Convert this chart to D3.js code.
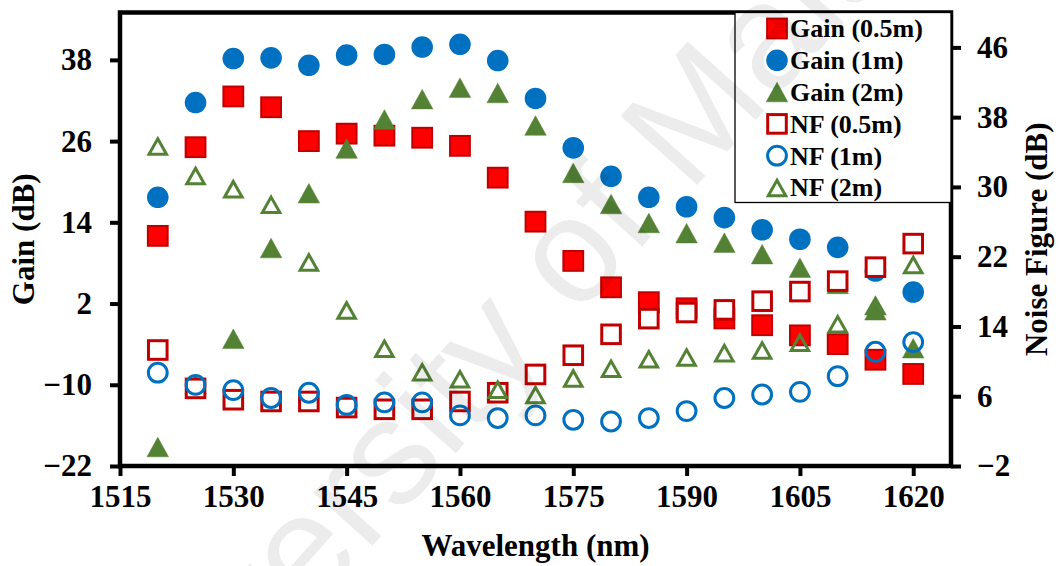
<!DOCTYPE html>
<html>
<head>
<meta charset="utf-8">
<script src="https://cdn.jsdelivr.net/npm/d3@7"></script>
<style>
  html, body { margin: 0; padding: 0; background: #fff; }
  svg { display: block; }
  .tick text { font-family: "Liberation Serif", "Times New Roman", serif; font-weight: bold; font-size: 31px; fill: #000; }
  .title { font-family: "Liberation Serif", "Times New Roman", serif; font-weight: bold; font-size: 31px; fill: #000; }
  .legend text { font-family: "Liberation Serif", "Times New Roman", serif; font-weight: bold; font-size: 26px; fill: #000; }
</style>
</head>
<body>
<svg id="chart" width="1060" height="566"></svg>
<script>
// Wavelength of each measurement (nm)
const wavelengths = [1520, 1525, 1530, 1535, 1540, 1545, 1550, 1555, 1560, 1565, 1570,
                     1575, 1580, 1585, 1590, 1595, 1600, 1605, 1610, 1615, 1620];

// Gain (dB) for each fibre length
const gain05 = [12.0, 25.1, 32.6, 31.0, 26.0, 27.1, 26.8, 26.5, 25.3, 20.6, 14.1,
                8.3, 4.4, 2.2, 1.3, -0.2, -1.2, -2.7, -4.0, -6.3, -8.4];
const gain1  = [17.7, 31.7, 38.2, 38.3, 37.2, 38.7, 38.8, 39.9, 40.3, 37.9, 32.3,
                25.0, 20.8, 17.7, 16.3, 14.7, 12.9, 11.5, 10.3, 6.8, 3.7];
const gain2  = [-19.2, -9.9, -3.2, 10.2, 18.3, 24.9, 29.2, 32.2, 33.9, 33.1, 28.3,
                21.3, 16.7, 13.9, 12.4, 11.0, 9.3, 7.3, 4.9, 1.0, -4.6];

// Noise figure (dB) for each fibre length
const nf05 = [11.3, 6.9, 5.6, 5.4, 5.4, 4.7, 4.5, 4.5, 5.4, 6.4, 8.5,
              10.7, 13.1, 14.9, 15.6, 15.9, 16.9, 18.0, 19.2, 20.8, 23.5];
const nf1  = [8.7, 7.3, 6.7, 5.8, 6.4, 5.0, 5.3, 5.3, 3.8, 3.5, 3.8,
              3.3, 3.1, 3.5, 4.3, 5.8, 6.2, 6.5, 8.3, 11.1, 12.2];
const nf2  = [34.7, 31.3, 29.8, 28.0, 21.4, 15.9, 11.5, 8.8, 8.0, 6.8, 6.2,
              8.1, 9.2, 10.3, 10.5, 11.0, 11.3, 12.2, 14.3, 16.4, 21.1];

// Axis ticks
const xTicks = [1515, 1530, 1545, 1560, 1575, 1590, 1605, 1620];
const gainTicks = [-22, -10, 2, 14, 26, 38];
const nfTicks = [-2, 6, 14, 22, 30, 38, 46];

const seriesNames = ["Gain (0.5m)", "Gain (1m)", "Gain (2m)", "NF (0.5m)", "NF (1m)", "NF (2m)"];

const svg = d3.select("#chart");
const plot = { left: 120, right: 951, top: 12.5, bottom: 466 };

const x = d3.scaleLinear().domain([1515, 1625]).range([plot.left, plot.right]);
const yGain = d3.scaleLinear().domain([-22, 45]).range([plot.bottom, plot.top]);
const yNF = d3.scaleLinear().domain([-2, 50]).range([plot.bottom, plot.top]);

const RED = "#ff0000", DARKRED = "#c00000", BLUE = "#0070c0", GREEN = "#548235";

// Marker painters: each appends one marker centred on (cx, cy)
function triPath(w, h) {
  return `M0,${-h / 2}L${w / 2},${h / 2}L${-w / 2},${h / 2}Z`;
}
const markers = {
  filledSquare: (g, cx, cy) => g.append("rect")
      .attr("x", cx - 9.9).attr("y", cy - 9.9).attr("width", 19.8).attr("height", 19.8)
      .attr("fill", RED).attr("stroke", DARKRED).attr("stroke-width", 2),
  filledCircle: (g, cx, cy) => g.append("circle")
      .attr("cx", cx).attr("cy", cy).attr("r", 10.8).attr("fill", BLUE),
  filledTriangle: (g, cx, cy) => g.append("path")
      .attr("d", triPath(21.5, 19.5)).attr("transform", `translate(${cx},${cy})`)
      .attr("fill", GREEN).attr("stroke", GREEN).attr("stroke-width", 0.5),
  openSquare: (g, cx, cy) => g.append("rect")
      .attr("x", cx - 9.3).attr("y", cy - 9.3).attr("width", 18.6).attr("height", 18.6)
      .attr("fill", "#fff").attr("stroke", DARKRED).attr("stroke-width", 3),
  openCircle: (g, cx, cy) => g.append("circle")
      .attr("cx", cx).attr("cy", cy).attr("r", 9.4)
      .attr("fill", "none").attr("stroke", BLUE).attr("stroke-width", 3),
  openTriangle: (g, cx, cy) => g.append("path")
      .attr("d", triPath(17.5, 15.5)).attr("transform", `translate(${cx},${cy + 0.5})`)
      .attr("fill", "none").attr("stroke", GREEN).attr("stroke-width", 3)
      .attr("stroke-linejoin", "miter")
};

const series = [
  { name: seriesNames[0], values: gain05, y: yGain, marker: markers.filledSquare },
  { name: seriesNames[1], values: gain1,  y: yGain, marker: markers.filledCircle },
  { name: seriesNames[2], values: gain2,  y: yGain, marker: markers.filledTriangle },
  { name: seriesNames[3], values: nf05,   y: yNF,   marker: markers.openSquare },
  { name: seriesNames[4], values: nf1,    y: yNF,   marker: markers.openCircle },
  { name: seriesNames[5], values: nf2,    y: yNF,   marker: markers.openTriangle }
];

// Data markers, drawn series by series
const marks = svg.append("g").attr("class", "marks");
series.forEach(s => {
  const g = marks.append("g");
  s.values.forEach((v, i) => s.marker(g, x(wavelengths[i]), s.y(v)));
});

// Axes
function styleAxis(g) {
  g.select(".domain").remove();
  g.selectAll(".tick line").attr("stroke", "#000").attr("stroke-width", 4);
}
svg.append("g").attr("transform", `translate(0,${plot.bottom})`)
  .call(d3.axisBottom(x).tickValues(xTicks).tickFormat(d3.format("d")).tickSize(10).tickPadding(9))
  .call(styleAxis);
svg.append("g").attr("transform", `translate(${plot.left},0)`)
  .call(d3.axisLeft(yGain).tickValues(gainTicks).tickFormat(d3.format("d")).tickSize(10).tickPadding(18))
  .call(styleAxis);
svg.append("g").attr("transform", `translate(${plot.right},0)`)
  .call(d3.axisRight(yNF).tickValues(nfTicks).tickFormat(d3.format("d")).tickSize(10).tickPadding(16))
  .call(styleAxis);
svg.selectAll(".tick text").attr("font-family", null).attr("font-size", null);

// Plot frame
svg.append("rect")
  .attr("x", plot.left).attr("y", plot.top)
  .attr("width", plot.right - plot.left).attr("height", plot.bottom - plot.top)
  .attr("fill", "none").attr("stroke", "#000").attr("stroke-width", 4.5);

// Axis titles
svg.append("text").attr("class", "title")
  .attr("transform", `translate(34,${(plot.top + plot.bottom) / 2}) rotate(-90)`)
  .attr("text-anchor", "middle").text("Gain (dB)");
svg.append("text").attr("class", "title")
  .attr("transform", `translate(1047,${(plot.top + plot.bottom) / 2}) rotate(-90)`)
  .attr("text-anchor", "middle").text("Noise Figure (dB)");
svg.append("text").attr("class", "title")
  .attr("x", (plot.left + plot.right) / 2).attr("y", 556)
  .attr("text-anchor", "middle").text("Wavelength (nm)");

// Legend
const legend = svg.append("g").attr("class", "legend");
legend.append("rect")
  .attr("x", 735).attr("y", plot.top).attr("width", plot.right - 735).attr("height", 190)
  .attr("fill", "#fff").attr("stroke", "#000").attr("stroke-width", 1.3);
series.forEach((s, i) => {
  const cy = 28.5 + i * 31.8;
  s.marker(legend, 777, cy);
  legend.append("text").attr("x", 790).attr("y", cy).attr("dy", "0.34em").text(s.name);
});

// Watermark across the plot
svg.append("text")
  .attr("transform", "translate(522,302) rotate(-48)")
  .attr("text-anchor", "middle").attr("dominant-baseline", "central")
  .attr("font-family", "Liberation Sans, Arial, sans-serif")
  .attr("font-size", 150)
  .attr("fill", "#000").attr("fill-opacity", 0.075)
  .text("University of Malaya");
</script>
</body>
</html>
